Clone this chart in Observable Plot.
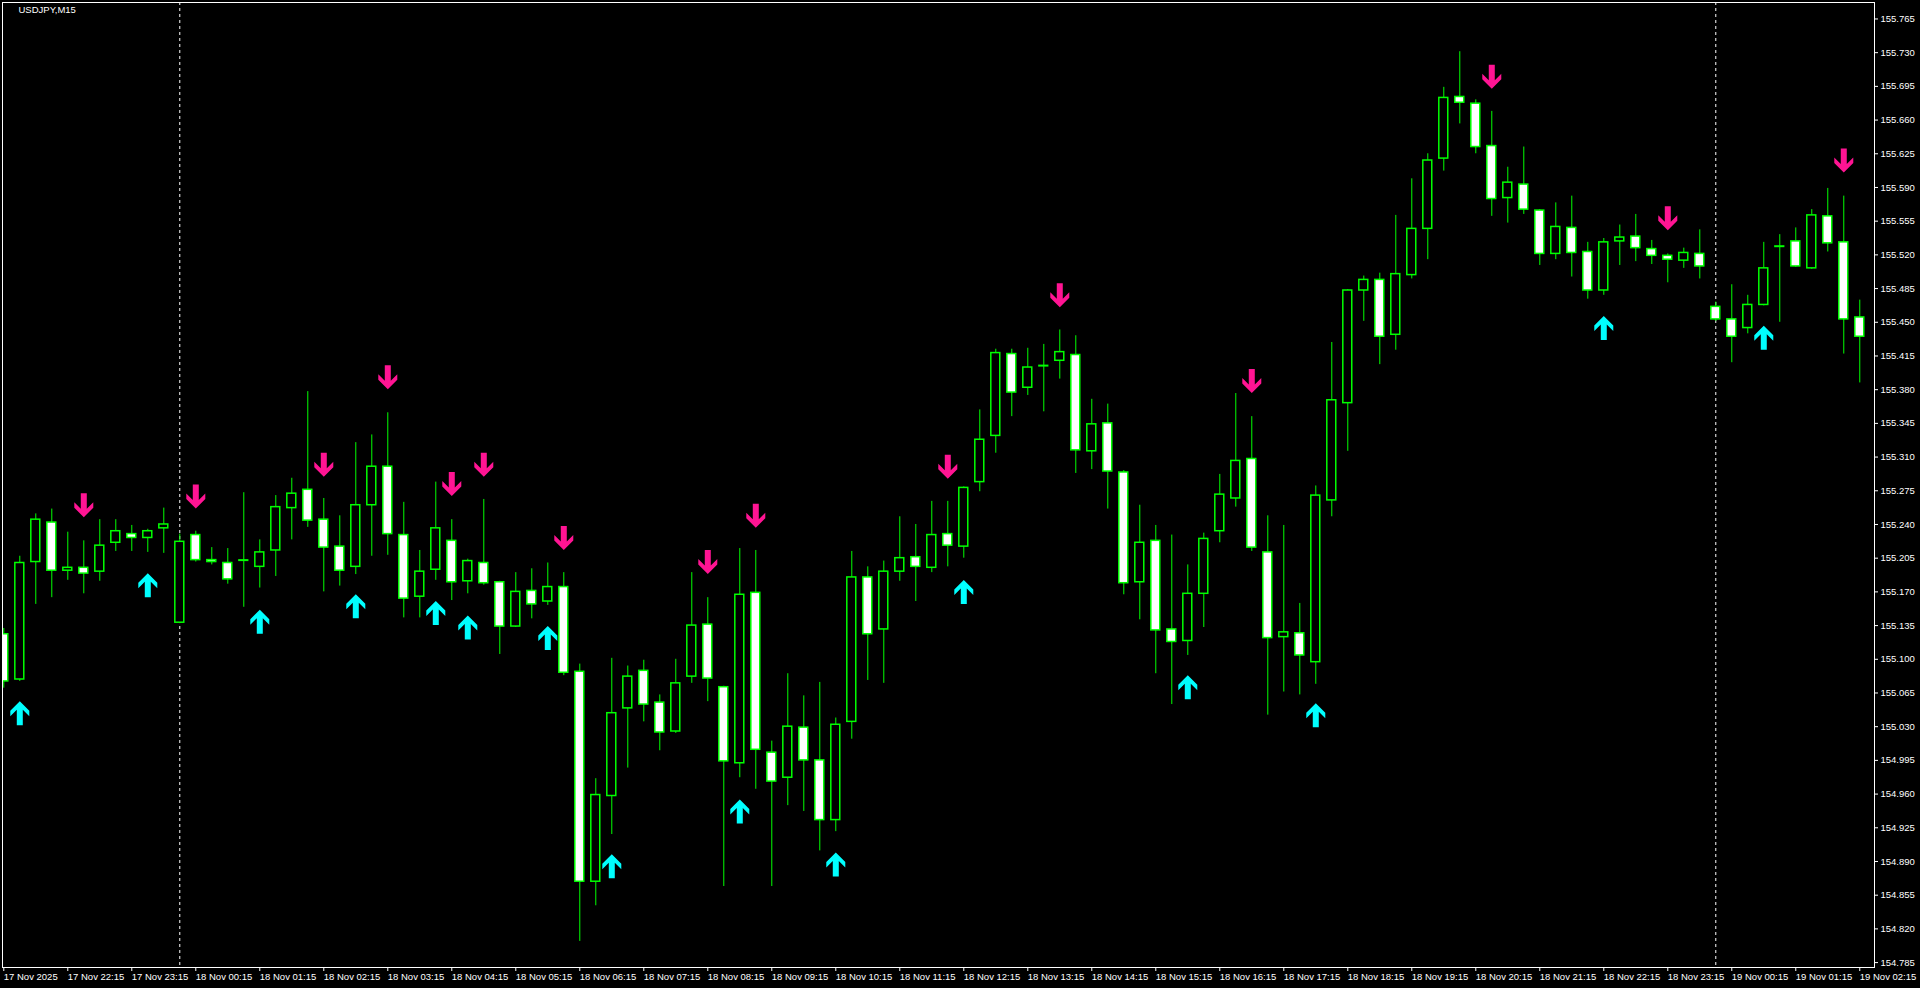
<!DOCTYPE html>
<html>
<head>
<meta charset="utf-8">
<script src="https://cdn.jsdelivr.net/npm/d3@7"></script>
<script src="https://cdn.jsdelivr.net/npm/@observablehq/plot@0.6"></script>
<style>
  html, body { margin: 0; padding: 0; background: #000; overflow: hidden; }
  #chart svg { display: block; }
</style>
</head>
<body>
<div id="chart"></div>
<script>
// USDJPY M15 — bar index 0 = 17 Nov 2025 21:15, one bar per 15 minutes
const open = [155.126,155.079,155.201,155.242,155.192,155.195,155.191,155.221,155.230,155.226,
155.236,155.138,155.229,155.203,155.200,155.203,155.196,155.213,155.257,155.276,
155.245,155.217,155.196,155.260,155.300,155.229,155.165,155.193,155.223,155.181,
155.200,155.180,155.134,155.171,155.160,155.175,155.087,154.869,154.958,155.049,
155.088,155.055,155.025,155.082,155.136,155.071,154.992,155.169,155.003,154.977,
155.029,154.995,154.933,155.035,155.185,155.131,155.191,155.206,155.195,155.230,
155.217,155.284,155.332,155.417,155.382,155.405,155.410,155.416,155.316,155.345,
155.294,155.180,155.223,155.131,155.119,155.168,155.233,155.267,155.308,155.211,
155.123,155.127,155.097,155.265,155.366,155.483,155.494,155.437,155.499,155.547,
155.620,155.684,155.677,155.633,155.579,155.593,155.566,155.521,155.548,155.523,
155.483,155.534,155.539,155.526,155.519,155.514,155.521,155.466,155.453,155.444,
155.468,155.529,155.534,155.506,155.560,155.533,155.455];
const high = [155.132,155.207,155.251,155.256,155.232,155.223,155.245,155.245,155.239,155.235,
155.257,155.230,155.233,155.216,155.215,155.273,155.224,155.270,155.288,155.378,
155.267,155.249,155.325,155.333,155.356,155.263,155.213,155.284,155.245,155.204,
155.266,155.181,155.190,155.194,155.200,155.190,155.095,154.976,155.101,155.093,
155.099,155.063,155.100,155.190,155.164,155.072,155.215,155.213,155.015,155.085,
155.062,155.076,155.039,155.212,155.196,155.202,155.248,155.240,155.264,155.264,
155.279,155.359,155.422,155.422,155.423,155.427,155.442,155.436,155.370,155.365,
155.296,155.260,155.239,155.229,155.198,155.231,155.292,155.376,155.352,155.249,
155.239,155.158,155.280,155.429,155.484,155.498,155.501,155.561,155.599,155.625,
155.694,155.731,155.681,155.669,155.611,155.632,155.567,155.574,155.581,155.533,
155.537,155.551,155.562,155.535,155.521,155.527,155.546,155.471,155.489,155.478,
155.533,155.541,155.548,155.567,155.589,155.581,155.473];
const low = [155.070,155.077,155.157,155.164,155.182,155.168,155.181,155.212,155.212,155.211,
155.210,155.137,155.201,155.198,155.178,155.154,155.174,155.186,155.224,155.237,
155.170,155.176,155.188,155.207,155.208,155.143,155.143,155.182,155.161,155.168,
155.177,155.105,155.133,155.142,155.156,155.083,154.807,154.844,154.918,154.987,
155.035,155.005,155.023,155.075,155.056,154.864,154.977,154.965,154.864,154.948,
154.942,154.901,154.921,155.017,155.078,155.075,155.181,155.160,155.190,155.196,
155.205,155.274,155.314,155.352,155.374,155.357,155.391,155.293,155.297,155.256,
155.167,155.141,155.085,155.053,155.104,155.133,155.221,155.258,155.212,155.042,
155.066,155.063,155.074,155.248,155.316,155.451,155.406,155.421,155.495,155.515,
155.607,155.656,155.625,155.560,155.553,155.562,155.509,155.515,155.497,155.474,
155.478,155.509,155.513,155.510,155.491,155.506,155.495,155.451,155.408,155.438,
155.467,155.450,155.507,155.505,155.523,155.417,155.387];
const close = [155.077,155.200,155.245,155.192,155.195,155.189,155.218,155.233,155.226,155.233,
155.240,155.222,155.203,155.201,155.183,155.203,155.211,155.258,155.272,155.244,
155.216,155.192,155.260,155.300,155.230,155.163,155.191,155.236,155.180,155.202,
155.179,155.134,155.170,155.157,155.175,155.086,154.869,154.959,155.044,155.082,
155.053,155.024,155.075,155.135,155.080,154.994,155.167,155.006,154.973,155.030,
154.995,154.933,155.032,155.185,155.126,155.191,155.205,155.196,155.229,155.218,
155.278,155.328,155.418,155.377,155.403,155.405,155.419,155.317,155.344,155.295,
155.179,155.221,155.130,155.118,155.168,155.225,155.271,155.306,155.216,155.122,
155.128,155.104,155.270,155.369,155.483,155.494,155.435,155.500,155.547,155.618,
155.683,155.678,155.632,155.578,155.595,155.567,155.521,155.549,155.522,155.483,
155.533,155.538,155.527,155.519,155.515,155.522,155.508,155.453,155.435,155.468,
155.506,155.529,155.508,155.561,155.532,155.453,155.435];

// signal arrows (bar index, price level)
const upIdx   = [1, 9, 16, 22, 27, 29, 34, 38, 46, 52, 60, 74, 82, 100, 110];
const upPrice = [155.044,155.177,155.139,155.155,155.148,155.133,155.122,154.885,154.942,154.887,155.170,155.071,155.042,155.444,155.434];
const downIdx   = [5, 12, 20, 24, 28, 30, 35, 44, 47, 59, 66, 78, 93, 104, 115];
const downPrice = [155.260,155.269,155.302,155.393,155.282,155.302,155.226,155.201,155.249,155.300,155.478,155.389,155.705,155.558,155.618];

// day separators (bar index of 00:00)
const daySeparators = [11, 107];

// axis ticks
const xTickIdx = [0,4,8,12,16,20,24,28,32,36,40,44,48,52,56,60,64,68,72,76,80,84,88,92,96,100,104,108,112,116];
const xTickLabels = ["17 Nov 2025","17 Nov 22:15","17 Nov 23:15","18 Nov 00:15","18 Nov 01:15","18 Nov 02:15",
"18 Nov 03:15","18 Nov 04:15","18 Nov 05:15","18 Nov 06:15","18 Nov 07:15","18 Nov 08:15","18 Nov 09:15",
"18 Nov 10:15","18 Nov 11:15","18 Nov 12:15","18 Nov 13:15","18 Nov 14:15","18 Nov 15:15","18 Nov 16:15",
"18 Nov 17:15","18 Nov 18:15","18 Nov 19:15","18 Nov 20:15","18 Nov 21:15","18 Nov 22:15","18 Nov 23:15",
"19 Nov 00:15","19 Nov 01:15","19 Nov 02:15"];
const yTicks = [154.785,154.820,154.855,154.890,154.925,154.960,154.995,155.030,155.065,155.100,
155.135,155.170,155.205,155.240,155.275,155.310,155.345,155.380,155.415,155.450,155.485,155.520,
155.555,155.590,155.625,155.660,155.695,155.730,155.765];
const title = "USDJPY,M15";

const candles = open.map((o, i) => ({i, open: o, high: high[i], low: low[i], close: close[i]}));
const bulls = candles.filter(d => d.close > d.open);
const bears = candles.filter(d => d.close < d.open);
const dojis = candles.filter(d => d.close === d.open);
const ups = upIdx.map((i, k) => ({i, price: upPrice[k]}));
const downs = downIdx.map((i, k) => ({i, price: downPrice[k]}));

const GREEN = "#00ff00";
const half = 0.28;

const upArrow = {
  draw(ctx) {
    ctx.moveTo(0, -12); ctx.lineTo(9.5, -2.5); ctx.lineTo(9.5, 3); ctx.lineTo(3, -3.5);
    ctx.lineTo(3, 12); ctx.lineTo(-3, 12); ctx.lineTo(-3, -3.5); ctx.lineTo(-9.5, 3);
    ctx.lineTo(-9.5, -2.5); ctx.closePath();
  }
};
const downArrow = {
  draw(ctx) {
    ctx.moveTo(0, 12); ctx.lineTo(9.5, 2.5); ctx.lineTo(9.5, -3); ctx.lineTo(3, 3.5);
    ctx.lineTo(3, -12); ctx.lineTo(-3, -12); ctx.lineTo(-3, 3.5); ctx.lineTo(-9.5, -3);
    ctx.lineTo(-9.5, 2.5); ctx.closePath();
  }
};

const chart = Plot.plot({
  width: 1920,
  height: 988,
  marginTop: 2,
  marginLeft: 2,
  marginRight: 46,
  marginBottom: 21,
  style: {background: "#000", color: "#fff", fontFamily: "'Liberation Sans', Arial, sans-serif", fontSize: "9.5px"},
  x: {domain: [-0.081, 116.92]},
  y: {domain: [154.7799, 155.7821]},
  marks: [
    Plot.ruleX(daySeparators, {stroke: "#fff", strokeDasharray: "3,3"}),
    Plot.ruleX(candles, {x: "i", y1: "low", y2: "high", stroke: GREEN, clip: true}),
    Plot.rect(bulls, {x1: d => d.i - half, x2: d => d.i + half, y1: "open", y2: "close", fill: "#000", stroke: GREEN, strokeWidth: 1.5, clip: true}),
    Plot.rect(bears, {x1: d => d.i - half, x2: d => d.i + half, y1: "open", y2: "close", fill: "#fff", stroke: GREEN, strokeWidth: 1.5, clip: true}),
    Plot.ruleY(dojis, {y: "close", x1: d => d.i - 0.32, x2: d => d.i + 0.32, stroke: GREEN, strokeWidth: 2}),
    Plot.dot(ups, {x: "i", y: "price", symbol: upArrow, fill: "#00ffff", stroke: "none"}),
    Plot.dot(downs, {x: "i", y: "price", symbol: downArrow, fill: "#ff1493", stroke: "none"}),
    Plot.frame({stroke: "#fff"}),
    Plot.axisY(yTicks, {anchor: "right", tickSize: 3, tickPadding: 3, tickFormat: d3.format(".3f"), label: null, stroke: "#fff", fill: "#fff"}),
    Plot.axisX(xTickIdx, {anchor: "bottom", tickSize: 4, tickPadding: 2, textAnchor: "start", tickFormat: d => xTickLabels[Math.round(d / 4)], label: null, stroke: "#fff", fill: "#fff"}),
    Plot.text([title], {frameAnchor: "top-left", dx: 16, dy: 4, lineAnchor: "top", textAnchor: "start", fill: "#fff"})
  ]
});
document.getElementById("chart").appendChild(chart);
</script>
</body>
</html>
